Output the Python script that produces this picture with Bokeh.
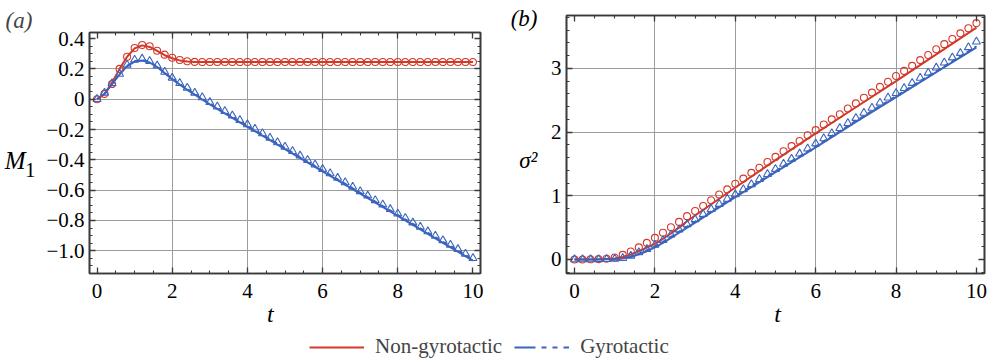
from bokeh.plotting import figure
from bokeh.models import (Range1d, FixedTicker, LinearAxis, Legend, LegendItem,
                          CustomJSTickFormatter)
from bokeh.layouts import column, row
from bokeh.embed import file_html
from bokeh.resources import INLINE

FONT = "Liberation Serif"
RED = "#D3392A"
BLUE = "#3A64BD"
FRAME = "#3a3a3a"
GRID = "#9c9c9c"

# ---------------- data ----------------
T_SIM = [0.0, 0.2, 0.4, 0.6, 0.8, 1.0, 1.2, 1.4, 1.6, 1.8, 2.0, 2.2, 2.4, 2.6, 2.8,
         3.0, 3.2, 3.4, 3.6, 3.8, 4.0, 4.2, 4.4, 4.6, 4.8, 5.0, 5.2, 5.4, 5.6, 5.8,
         6.0, 6.2, 6.4, 6.6, 6.8, 7.0, 7.2, 7.4, 7.6, 7.8, 8.0, 8.2, 8.4, 8.6, 8.8,
         9.0, 9.2, 9.4, 9.6, 9.8, 10.0]

M1_NON_SIM = [0.0, 0.035, 0.10, 0.20, 0.28, 0.338, 0.358, 0.349, 0.32, 0.294, 0.273, 0.259, 0.25, 0.246, 0.245,
              0.245, 0.245, 0.245, 0.245, 0.245, 0.245, 0.245, 0.245, 0.245, 0.245, 0.245, 0.245, 0.245, 0.245, 0.245,
              0.245, 0.245, 0.245, 0.245, 0.245, 0.245, 0.245, 0.245, 0.245, 0.245, 0.245, 0.245, 0.245, 0.245, 0.245,
              0.245, 0.245, 0.245, 0.245, 0.245, 0.245]

M1_GYRO_SIM = [0.0, 0.042, 0.105, 0.167, 0.227, 0.26, 0.267, 0.251, 0.222, 0.18, 0.141, 0.106, 0.075, 0.042, 0.012,
               -0.020, -0.049, -0.079, -0.108, -0.138, -0.167, -0.196, -0.226, -0.255, -0.285, -0.314, -0.343,
               -0.373, -0.402, -0.432, -0.461, -0.490, -0.520, -0.549, -0.579, -0.608, -0.637, -0.667, -0.696,
               -0.726, -0.755, -0.784, -0.814, -0.843, -0.873, -0.902, -0.931, -0.961, -0.990, -1.020, -1.049]

SIG_NON_SIM = [0.0, 0.0, 0.003, 0.006, 0.012, 0.03, 0.072, 0.126, 0.19, 0.26, 0.34, 0.42, 0.505, 0.59, 0.68,
               0.76, 0.84, 0.93, 1.02, 1.10, 1.19, 1.27, 1.36, 1.44, 1.53, 1.61, 1.70, 1.78, 1.86, 1.95,
               2.03, 2.12, 2.20, 2.28, 2.37, 2.45, 2.54, 2.62, 2.71, 2.79, 2.88, 2.96, 3.04, 3.13, 3.21,
               3.30, 3.38, 3.46, 3.55, 3.63, 3.71]

SIG_GYRO_SIM = [0.0, 0.0, 0.0, 0.002, 0.005, 0.01, 0.02, 0.058, 0.11, 0.163, 0.231, 0.305, 0.39, 0.47, 0.55,
                0.63, 0.71, 0.79, 0.87, 0.95, 1.02, 1.10, 1.18, 1.26, 1.34, 1.42, 1.50, 1.58, 1.66, 1.74,
                1.82, 1.90, 1.98, 2.06, 2.14, 2.22, 2.30, 2.38, 2.46, 2.54, 2.61, 2.69, 2.77, 2.85, 2.93,
                3.01, 3.09, 3.17, 3.24, 3.33, 3.42]

T_LINE = [0.0, 0.2, 0.4, 0.6, 0.8, 1.0, 1.2, 1.4, 1.6, 1.8, 2.0, 2.2, 2.4, 2.6, 2.8, 3.0,
          4.0, 5.0, 6.0, 7.0, 8.0, 9.0, 10.0]

M1_NON_LINE = [0.0, 0.035, 0.11, 0.20, 0.28, 0.335, 0.355, 0.345, 0.318, 0.29, 0.27, 0.256, 0.249, 0.246,
               0.245, 0.245, 0.245, 0.245, 0.245, 0.245, 0.245, 0.245, 0.245]
M1_GYRO_LINE = [0.0, 0.035, 0.10, 0.163, 0.218, 0.248, 0.255, 0.242, 0.212, 0.172, 0.132, 0.096, 0.062,
                0.03, -0.002, -0.034, -0.182, -0.329, -0.476, -0.623, -0.770, -0.918, -1.065]
M1_GYRO_DASH = [0.0, 0.036, 0.102, 0.166, 0.222, 0.252, 0.26, 0.247, 0.217, 0.177, 0.138, 0.102, 0.068,
                0.036, 0.005, -0.027, -0.174, -0.321, -0.468, -0.615, -0.762, -0.909, -1.056]

SIG_NON_LINE = [0.0, 0.0, 0.0, 0.002, 0.006, 0.015, 0.04, 0.08, 0.13, 0.185, 0.245, 0.325, 0.41, 0.50,
                0.60, 0.69, 1.13, 1.56, 1.98, 2.39, 2.80, 3.22, 3.64]
SIG_GYRO_LINE = [0.0, 0.0, 0.0, 0.0, 0.002, 0.006, 0.015, 0.04, 0.08, 0.13, 0.19, 0.26, 0.34, 0.42,
                 0.50, 0.58, 0.98, 1.37, 1.76, 2.16, 2.55, 2.94, 3.33]
SIG_GYRO_DASH = [0.0, 0.0, 0.0, 0.0, 0.003, 0.008, 0.02, 0.05, 0.095, 0.15, 0.21, 0.28, 0.36, 0.44,
                 0.52, 0.60, 1.00, 1.39, 1.78, 2.18, 2.57, 2.96, 3.35]

X_TICKS = [0, 2, 4, 6, 8, 10]
X_GRID = [2, 4, 6, 8]
YA_TICKS = [0.4, 0.2, 0.0, -0.2, -0.4, -0.6, -0.8, -1.0]
YA_GRID = [0.2, 0.0, -0.2, -0.4, -0.6, -0.8, -1.0]
YB_TICKS = [0, 1, 2, 3]
YB_GRID = [1, 2, 3]

LABELS = ["Non-gyrotactic", "Gyrotactic"]

X_MINOR = [i * 0.5 for i in range(0, 21)]
YA_MINOR = [round(-1.15 + i * 0.05, 2) for i in range(0, 32)]
YB_MINOR = [round(-0.2 + i * 0.2, 2) for i in range(0, 21)]

fmt_dec1 = CustomJSTickFormatter(code="""
if (Math.abs(tick) < 1e-9) return "0";
const s = Math.abs(tick).toFixed(1);
return (tick < 0 ? "\\u2212" : "") + s;
""")
fmt_int = CustomJSTickFormatter(code="return Math.round(tick).toFixed(0);")
fmt_blank = CustomJSTickFormatter(code="return '';")


def style_axis(ax, ticks, minor, fmt, show_labels, standoff):
    ax.ticker = FixedTicker(ticks=ticks, minor_ticks=minor)
    ax.major_tick_in = 6
    ax.major_tick_out = 0
    ax.minor_tick_in = 3
    ax.minor_tick_out = 0
    ax.axis_line_color = FRAME
    ax.axis_line_width = 1.6
    ax.major_tick_line_color = FRAME
    ax.minor_tick_line_color = FRAME
    ax.major_tick_line_width = 1.3
    ax.minor_tick_line_width = 1.1
    ax.major_label_text_font = FONT
    ax.major_label_text_color = "black"
    if show_labels:
        ax.formatter = fmt
        ax.major_label_text_font_size = "21px"
        ax.major_label_standoff = standoff
    else:
        ax.formatter = fmt_blank
        ax.major_label_text_font_size = "1px"
        ax.major_label_standoff = 0


def label_axis(ax, ticks, code, size, standoff, style="italic"):
    """An axis with no line or ticks, used only to place a title text."""
    ax.ticker = FixedTicker(ticks=ticks, minor_ticks=[])
    ax.formatter = CustomJSTickFormatter(code=code)
    ax.axis_line_color = None
    ax.major_tick_line_color = None
    ax.minor_tick_line_color = None
    ax.major_tick_in = 0
    ax.major_tick_out = 0
    ax.major_label_text_font = FONT
    ax.major_label_text_font_style = style
    ax.major_label_text_font_size = size
    ax.major_label_text_color = "black"
    ax.major_label_standoff = standoff


def make_panel(width, height, xr, yr, mb, yticks, yminor, ygrid, yfmt):
    p = figure(width=width, height=height, x_range=Range1d(*xr), y_range=Range1d(*yr),
               min_border_left=mb[0], min_border_right=mb[1], min_border_top=mb[2],
               min_border_bottom=mb[3], output_backend="svg", toolbar_location=None,
               background_fill_color="white", border_fill_color="white")
    p.outline_line_color = FRAME
    p.outline_line_width = 1.6
    style_axis(p.xaxis[0], X_TICKS, X_MINOR, fmt_int, True, 10)
    style_axis(p.yaxis[0], yticks, yminor, yfmt, True, 5)
    top = LinearAxis()
    style_axis(top, X_TICKS, X_MINOR, None, False, 0)
    right = LinearAxis()
    style_axis(right, yticks, yminor, None, False, 0)
    p.add_layout(top, "above")
    p.add_layout(right, "right")
    p.xgrid.ticker = FixedTicker(ticks=X_GRID)
    p.ygrid.ticker = FixedTicker(ticks=ygrid)
    p.xgrid.grid_line_color = GRID
    p.ygrid.grid_line_color = GRID
    p.xgrid.grid_line_width = 1
    p.ygrid.grid_line_width = 1
    return p


# ---------------- panel (a) ----------------
pa = make_panel(495, 330, (-0.2, 10.2), (-1.15, 0.44), (89, 15, 32, 57),
                YA_TICKS, YA_MINOR, YA_GRID, fmt_dec1)
pa.line(T_LINE, M1_NON_LINE, line_color=RED, line_width=2)
pa.line(T_LINE, M1_GYRO_LINE, line_color=BLUE, line_width=2)
pa.line(T_LINE, M1_GYRO_DASH, line_color=BLUE, line_width=1.5, line_dash="5 4")
pa.scatter(T_SIM, M1_NON_SIM, marker="circle", size=7, fill_color=None, line_color=RED, line_width=1.1)
pa.scatter(T_SIM, M1_GYRO_SIM, marker="triangle", size=8, fill_color=None, line_color=BLUE, line_width=1.1)

pa.title.text = "(a)"
pa.title.align = "left"
pa.title.offset = -84
pa.title.standoff = 0
pa.title.text_font = FONT
pa.title.text_font_style = "italic"
pa.title.text_font_size = "23px"

ya_one = LinearAxis()
label_axis(ya_one, [-0.464], "return '1';", "21px", 8, "normal")
pa.add_layout(ya_one, "left")
ya_m = LinearAxis()
label_axis(ya_m, [-0.405], "return 'M';", "25px", -4)
pa.add_layout(ya_m, "left")
xa_lab = LinearAxis()
label_axis(xa_lab, [4.61], "return 't';", "24px", 0)
pa.add_layout(xa_lab, "below")

# ---------------- panel (b) ----------------
pb = make_panel(496, 330, (-0.2, 10.2), (-0.22, 3.83), (71, 7, 15, 57),
                YB_TICKS, YB_MINOR, YB_GRID, fmt_int)
pb.title_location = None
pb.line(T_LINE, SIG_NON_LINE, line_color=RED, line_width=2)
pb.line(T_LINE, SIG_GYRO_LINE, line_color=BLUE, line_width=2)
pb.line(T_LINE, SIG_GYRO_DASH, line_color=BLUE, line_width=1.5, line_dash="5 4")
pb.scatter(T_SIM, SIG_NON_SIM, marker="circle", size=7, fill_color=None, line_color=RED, line_width=1.1)
pb.scatter(T_SIM, SIG_GYRO_SIM, marker="triangle", size=8, fill_color=None, line_color=BLUE, line_width=1.1)

yb_lab = LinearAxis()
label_axis(yb_lab, [1.55, 3.78], "return tick > 3 ? '(b)' : '\\u03c3\\u00b2';", "23px", 10)
pb.add_layout(yb_lab, "left")
xb_lab = LinearAxis()
label_axis(xb_lab, [5.05], "return 't';", "24px", 0)
pb.add_layout(xb_lab, "below")

# ---------------- legend ----------------
pl = figure(width=991, height=31, x_axis_type=None, y_axis_type=None, min_border=0,
            output_backend="svg", toolbar_location=None, outline_line_color=None,
            x_range=Range1d(0, 1), y_range=Range1d(0, 1))
r_red = pl.line([5, 6], [5, 5], line_color=RED, line_width=2)
r_blue = pl.line([5, 6], [5, 5], line_color=BLUE, line_width=2, line_dash="21 6 5 6 5 6 6 100")
leg = Legend(items=[LegendItem(label=LABELS[0], renderers=[r_red]),
                    LegendItem(label=LABELS[1], renderers=[r_blue])],
             orientation="horizontal", location=(309, 2), glyph_width=55, glyph_height=20,
             label_standoff=11, spacing=12, padding=0, margin=0,
             border_line_color=None, background_fill_alpha=0,
             label_text_font=FONT, label_text_font_size="21px")
pl.add_layout(leg, "center")

# Nested single-child columns keep the two panels' frames independent.
layout = column(row(column(pa), column(pb)), pl)
open("out.html", "w").write(file_html(layout, INLINE))
